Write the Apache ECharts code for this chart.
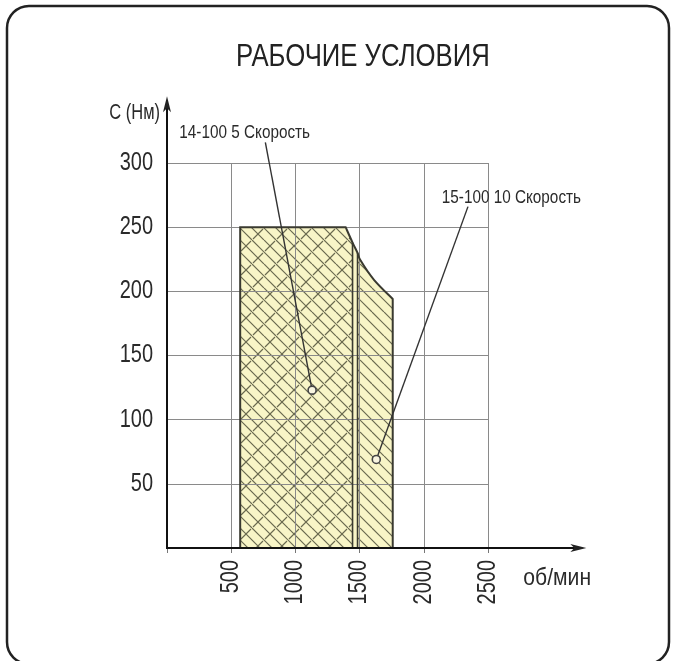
<!DOCTYPE html>
<html><head><meta charset="utf-8">
<script src="https://cdn.jsdelivr.net/npm/echarts@6/dist/echarts.min.js"></script>
<style>html,body{margin:0;padding:0;background:#fff}#c{width:675px;height:661px}</style>
</head><body><div id="c"></div>
<script>
// ---- data (rpm, torque Nm) ----
const xTicks = [500, 1000, 1500, 2000, 2500];
const yTicks = [50, 100, 150, 200, 250, 300];
const zoneLeft = 570;          // rpm, left edge of working area
const zoneTop = 250;           // Nm, torque plateau
const curve = [[1391,250],[1445,238],[1484,230],[1508,224],[1612,209],[1758,194]]; // constant-power edge
const dividers = [1445, 1484]; // rpm, boundary between 5- and 10-speed zones
const labelTexts = ['14-100 5 Скорость', '15-100 10 Скорость'];
const labelAnchors = [[96,323], [2140,273]];
const leaderStarts = [[766,316], [2344,266]];
const markerPts = [[1130,123], [1630,69]];
const axisEnds = [3266, 352];
const titleText = 'РАБОЧИЕ УСЛОВИЯ';
const yName = 'C (Нм)';
const xName = 'об/мин';

const FONT = '"Liberation Sans",Arial,sans-serif';
const SX = 0.8; // narrow lettering

function makePattern(cross) {
  const s = 24;
  const cv = document.createElement('canvas');
  cv.width = s; cv.height = s;
  const g = cv.getContext('2d');
  g.fillStyle = '#f8f5c7';
  g.fillRect(0,0,s,s);
  g.strokeStyle = '#6a6a50';
  g.lineWidth = 1.2;
  g.beginPath();
  for (const o of [-24,-12,0,12,24]) { g.moveTo(o,0); g.lineTo(o+s,s); }
  g.stroke();
  if (cross) {
    g.beginPath();
    g.moveTo(1,11); g.lineTo(11,1);
    g.moveTo(13,23); g.lineTo(23,13);
    g.stroke();
  }
  return {image: cv, repeat: 'repeat'};
}
const pat5 = makePattern(true);
const pat10 = makePattern(false);

function bezierSegs(P) {
  // Catmull-Rom -> cubic Bezier segments in pixel space
  const segs = [];
  for (let i = 0; i < P.length - 1; i++) {
    const p0 = P[Math.max(i-1,0)], p1 = P[i], p2 = P[i+1], p3 = P[Math.min(i+2,P.length-1)];
    const c1 = [p1[0] + (p2[0]-p0[0])/6, p1[1] + (p2[1]-p0[1])/6];
    const c2 = [p2[0] - (p3[0]-p1[0])/6, p2[1] - (p3[1]-p1[1])/6];
    segs.push(' C' + c1[0] + ',' + c1[1] + ' ' + c2[0] + ',' + c2[1] + ' ' + p2[0] + ',' + p2[1]);
  }
  return segs;
}
const pt = p => p[0] + ',' + p[1];

const chart = echarts.init(document.getElementById('c'));

function txt(x, y, text, size, align, extra) {
  return Object.assign({type: 'text', x: x, y: y, scaleX: SX,
    style: {text: text, fontFamily: FONT, fontSize: size, fill: '#2a2a2a', align: align, verticalAlign: 'middle'}}, extra || {});
}

chart.setOption({
  animation: false,
  backgroundColor: '#fff',
  graphic: [
    {type: 'rect', shape: {x: 7, y: 6, width: 662, height: 658, r: 22},
     style: {fill: 'none', stroke: '#222', lineWidth: 2.5}, z: 100},
    {type: 'text', x: 236, y: 57, scaleX: 0.83,
     style: {text: titleText, fontFamily: FONT, fontSize: 31, fill: '#222', align: 'left', verticalAlign: 'middle'}}
  ],
  grid: {left: 167, top: 163, width: 321, height: 385},
  xAxis: {type: 'value', min: 0, max: 2500, interval: 500, z: 3,
    axisLine: {show: false},
    axisTick: {show: true, length: 5, lineStyle: {color: '#777'}},
    splitLine: {show: true, lineStyle: {color: '#8a8a8a', width: 1}},
    axisLabel: {show: false}},
  yAxis: {type: 'value', min: 0, max: 300, interval: 50, z: 3,
    axisLine: {show: false}, axisTick: {show: false},
    splitLine: {show: true, lineStyle: {color: '#8a8a8a', width: 1}},
    axisLabel: {show: false}},
  series: [
    {type: 'custom', z: 1, clip: false, data: [[0,0]],
     renderItem: (params, api) => {
       const P = curve.map(p => api.coord(p));
       const segs = bezierSegs(P);
       const b0 = api.coord([zoneLeft,0]), b1 = api.coord([zoneLeft,zoneTop]);
       const d0 = api.coord([dividers[0],0]), d1 = api.coord([dividers[1],0]);
       const e0 = api.coord([curve[curve.length-1][0],0]);
       const full = 'M' + pt(b0) + ' L' + pt(b1) + ' L' + pt(P[0]) + segs.join('') + ' L' + pt(e0) + ' Z';
       const z5 = 'M' + pt(b0) + ' L' + pt(b1) + ' L' + pt(P[0]) + segs[0] + ' L' + pt(d0) + ' Z';
       const z10 = 'M' + pt(d1) + ' L' + pt(P[2]) + segs.slice(2).join('') + ' L' + pt(e0) + ' Z';
       return {type: 'group', children: [
         {type: 'path', shape: {pathData: full}, style: {fill: '#f8f5c7'}},
         {type: 'path', shape: {pathData: z5}, style: {fill: pat5}},
         {type: 'path', shape: {pathData: z10}, style: {fill: pat10}}
       ]};
     }},
    {type: 'custom', z: 5, clip: false, data: [[0,0]],
     renderItem: (params, api) => {
       const ch = [];
       const P = curve.map(p => api.coord(p));
       const segs = bezierSegs(P);
       const b0 = api.coord([zoneLeft,0]), b1 = api.coord([zoneLeft,zoneTop]);
       const e0 = api.coord([curve[curve.length-1][0],0]);
       const full = 'M' + pt(b0) + ' L' + pt(b1) + ' L' + pt(P[0]) + segs.join('') + ' L' + pt(e0);
       ch.push({type: 'path', shape: {pathData: full}, style: {fill: 'none', stroke: '#3a3a30', lineWidth: 2}});
       [[dividers[0], P[1]], [dividers[1], P[2]]].forEach(([d, top]) => {
         const p1 = api.coord([d,0]);
         ch.push({type: 'line', shape: {x1: p1[0], y1: p1[1], x2: top[0], y2: top[1]},
           style: {stroke: '#3a3a30', lineWidth: 1.6}});
       });
       // axes with arrows
       const o = api.coord([0,0]), xe = api.coord([axisEnds[0],0]), ye = api.coord([0,axisEnds[1]]);
       ch.push({type: 'line', shape: {x1: o[0], y1: o[1], x2: xe[0]-4, y2: xe[1]}, style: {stroke: '#111', lineWidth: 2}});
       ch.push({type: 'line', shape: {x1: o[0], y1: o[1]+1, x2: ye[0], y2: ye[1]+4}, style: {stroke: '#111', lineWidth: 2}});
       ch.push({type: 'polygon', shape: {points: [[xe[0],xe[1]],[xe[0]-16,xe[1]-4],[xe[0]-12,xe[1]],[xe[0]-16,xe[1]+4]]}, style: {fill: '#222'}});
       ch.push({type: 'polygon', shape: {points: [[ye[0],ye[1]],[ye[0]-4,ye[1]+16],[ye[0],ye[1]+12],[ye[0]+4,ye[1]+16]]}, style: {fill: '#222'}});
       // tick labels
       yTicks.forEach(v => { const p = api.coord([0,v]); ch.push(txt(p[0]-14, p[1], String(v), 25, 'right')); });
       xTicks.forEach(v => { const p = api.coord([v,0]); ch.push(txt(p[0], p[1]+12, String(v), 25, 'right', {rotation: Math.PI/2})); });
       // axis names
       ch.push(txt(ye[0]-7, ye[1]+17, yName, 22, 'right', {scaleX: 0.75}));
       ch.push(txt(xe[0]-63, xe[1]+30, xName, 24, 'left', {scaleX: 0.88}));
       // annotations
       labelTexts.forEach((t, i) => {
         const a = api.coord(labelAnchors[i]);
         ch.push(txt(a[0], a[1], t, 18, 'left', {scaleX: 0.85}));
         const s = api.coord(leaderStarts[i]), m = api.coord(markerPts[i]);
         const dx = m[0]-s[0], dy = m[1]-s[1], L = Math.hypot(dx,dy), r = 4;
         ch.push({type: 'line', shape: {x1: s[0], y1: s[1], x2: m[0]-dx/L*r, y2: m[1]-dy/L*r}, style: {stroke: '#333', lineWidth: 1.4}});
         ch.push({type: 'circle', shape: {cx: m[0], cy: m[1], r: r}, style: {fill: '#f8f5e0', stroke: '#444', lineWidth: 1.6}});
       });
       return {type: 'group', children: ch};
     }}
  ]
});
</script></body></html>
